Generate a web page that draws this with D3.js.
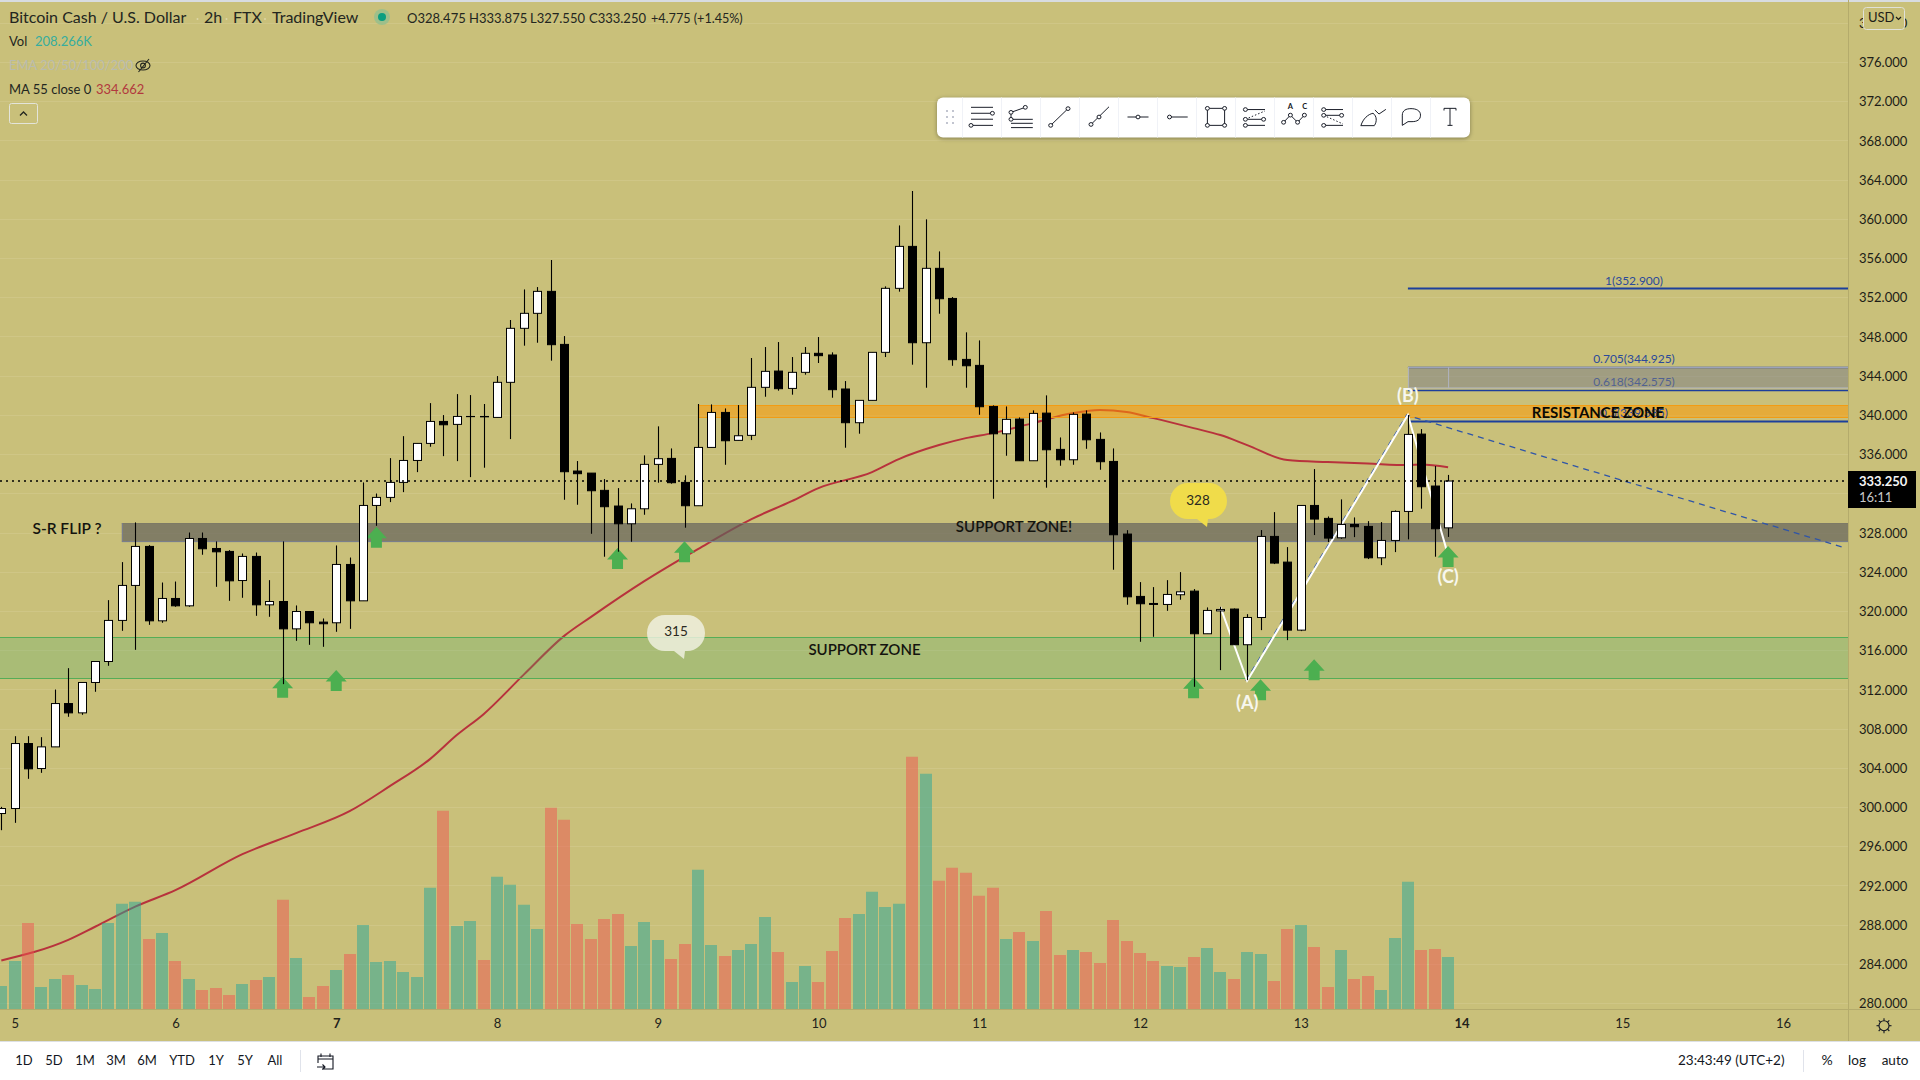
<!DOCTYPE html>
<html>
<head>
<meta charset="utf-8">
<title>BCHUSD</title>
<script src="https://cdn.jsdelivr.net/npm/d3@7"></script>
<style>
  html, body { margin: 0; padding: 0; background: #fff; }
  svg { display: block; }
  text { font-family: Lato, "Open Sans", sans-serif; }
</style>
</head>
<body>
<svg id="chart" width="1920" height="1080"></svg>
<script>
// one entry per 2h bar, first bar is the one before the 5th
const firstBar = -1
const opens = [299.33,299.84,306.47,303.92,306.13,310.55,309.6,312.7,314.84,319.03,322.6,326.58,318.99,321.27,320.52,327.39,326.37,326.07,323.1,325.56,320.62,320.96,318.17,319.94,318.86,318.79,324.74,321.03,330.76,331.58,333.11,335.35,337.09,339.33,339.03,339.82,339.84,339.74,343.32,348.83,350.36,352.6,347.19,334.27,334.06,332.3,330.7,328.89,330.42,334.95,335.56,333.11,330.73,336.68,340.25,337.4,337.91,342.81,344.47,342.7,344.34,346.28,346.11,342.64,339.2,341.48,346.38,352.91,357.19,347.36,354.95,351.88,345.66,345.05,340.86,338.07,339.57,335.32,340.18,336.48,335.42,340.08,337.5,335.25,327.84,321.48,320.76,320.66,321.65,322.02,317.67,320.0,320.19,316.55,319.33,327.6,324.98,318.04,330.76,329.44,327.46,328.82,328.62,325.42,327.19,330.15,338.04,332.74,328.475]
const highs = [300.01,307.22,307.22,307.12,311.98,314.16,312.7,314.84,321.1,324.98,329.03,326.71,322.9,323,328,328,327.09,326.2,325.86,325.96,323.14,327.09,320.56,319.94,319.23,326.68,325.45,333.11,331.98,335.59,337.83,337.09,341.2,339.98,342.12,342.02,341.11,343.96,349.68,352.8,353.04,355.8,348.04,335.29,334.06,333.45,332.53,330.97,335.87,338.83,336.58,333.83,341.11,341.07,340.66,341,345.8,346.92,347.43,345.9,346.92,347.94,346.38,343.45,341.48,346.38,353.11,359.33,362.84,359.95,356.68,352.02,348.42,347.6,340.97,340.86,339.74,340.46,341.99,337.7,340.25,340.46,338.21,336.58,328.24,322.94,322.43,323.14,323.96,322.23,320.36,320.42,320.25,319.67,328.25,330.08,326.51,330.76,334.47,329.64,331.38,329.54,329.16,329.06,330.25,339.98,338.55,334.78,333.875]
const lows = [297.63,298.38,302.87,303.48,306.13,309.2,309.4,311.75,314.4,317.97,316.03,318.58,318.79,320.42,320.42,325.73,322.46,321.03,321.34,319.5,319.4,312.53,316.95,316.54,316.34,317.87,318.17,321.03,328.68,331.1,332.12,334.16,336.75,335.79,335.28,333.65,334.61,339.74,337.53,347.06,347.36,345.53,331.34,330.83,327.87,325.53,326.04,327.06,329.81,333.08,332.98,328.49,330.73,336.68,334.91,337.4,337.43,341.85,342.47,342.06,344.1,345.29,341.75,336.65,338.08,341.48,345.9,352.57,345.12,342.77,350.32,345.01,342.77,340.01,331.44,335.83,335.32,335.32,332.57,334.81,334.91,336.54,334.4,324.2,320.63,316.85,317.36,320.01,321.14,312.26,317.67,313.96,316.55,312.94,318.04,324.78,317.02,317.94,327.74,327.02,327.36,327.53,325.29,324.67,326,327.3,330.43,325.53,327.55]
const closes = [299.84,306.47,303.89,306.13,310.55,309.6,312.7,314.84,319.03,322.6,326.58,318.99,321.27,320.52,327.39,326.34,326.03,323.07,325.56,320.62,320.96,318.17,319.94,318.79,318.69,324.74,321.03,330.76,331.58,333.11,335.35,337.09,339.33,338.99,339.84,339.84,339.8,343.32,348.83,350.36,352.6,347.16,334.2,334,332.26,330.63,328.89,330.42,334.95,335.53,333.08,330.73,336.68,340.25,337.36,337.87,342.81,344.44,342.67,344.34,346.28,346.04,342.57,339.2,341.48,346.38,352.91,357.19,347.36,354.95,351.85,345.63,345.01,340.83,338.07,339.54,335.32,340.15,336.44,335.42,340.05,337.46,335.22,327.77,321.44,320.73,320.66,321.68,321.95,317.67,320.05,320.15,316.55,319.33,327.6,324.88,318.04,330.76,329.37,327.43,328.82,328.59,325.42,327.19,330.15,338.01,332.67,328.38,333.25]
const volumes = [92,192,344,88,120,136,96,80,344,421,429,280,304,192,120,76,84,56,100,116,128,437,204,48,92,156,220,336,188,192,148,128,485,793,332,352,196,529,497,417,320,805,757,340,280,360,380,252,348,276,200,260,557,256,212,236,260,368,228,108,172,108,232,364,380,469,408,421,1009,941,513,565,545,453,485,280,308,272,392,216,236,228,184,356,272,224,192,172,168,208,244,148,120,228,220,112,320,336,248,88,236,120,132,76,284,509,236,240,208]

// MA 55, read at these bars
const maBars = [-1,4,6,9,12,17,21,25,28,31,33,35,38,41,43,47,51,55,58,60,64,66,69,71,73,76,79,81,83,85,88,90,92,95,98,101,104,105,107]
const maValues = [284.34,286.44,287.78,289.83,291.51,295.18,297.33,299.57,302.12,304.88,307.33,309.47,313.5,317.43,319.37,323.04,326.31,329.37,331.2,332.53,334.16,335.49,336.92,337.63,338.14,339.16,340.18,340.49,340.29,339.67,338.65,337.94,336.92,335.39,335.18,335.03,334.88,334.93,334.662]

const priceTicks = [280,284,288,292,296,300,304,308,312,316,320,324,328,332,336,340,344,348,352,356,360,364,368,372,376,380]
const dayBars = [0,12,24,36,48,60,72,84,96,108,120,132]
const dayLabels = ['5','6','7','8','9','10','11','12','13','14','15','16']
const boldDays = ['7','14']

const arrowBars = [20,24,27,45,50,88,93,97,107]
const arrowTips = [313.28,313.96,328.58,326.41,327.12,313.24,313.04,315.08,326.61]

const waveBars = [90,92,104,107]
const wavePrices = [320.42,312.87,339.98,325.69]
const fibBars = [92,104,136.6]
const fibPrices = [312.87,339.98,326.48]
const fibLevels = [1,0.705,0.618,0.5]
const fibValues = [352.9,344.925,342.575,339.385]

const lastPrice = 333.25
const rangeButtons = ['1D','5D','1M','3M','6M','YTD','1Y','5Y','All']
const rangeCenters = [24,54,85,116,147,182,216,245,275]

const bg = '#c9c07a'
const axisX = 1848
const axisY = 1009

const svg = d3.select('#chart')
const x = d3.scaleLinear().domain([0, 132]).range([14.7, 1783])
const y = d3.scaleLinear().domain([376, 280]).range([62, 1003])
const v = d3.scaleLinear().domain([0, 1000]).range([axisY, axisY - 250])

const bars = opens.map((o, i) => ({ i: i + firstBar, o, h: highs[i], l: lows[i], c: closes[i], vol: volumes[i] }))

svg.append('rect').attr('width', 1920).attr('height', 1042).attr('fill', bg)
svg.append('rect').attr('width', 1920).attr('height', 2).attr('fill', '#d8dce0')
svg.append('rect').attr('y', 1042).attr('width', 1920).attr('height', 38).attr('fill', '#fff')
svg.append('line').attr('x1', 0).attr('x2', 1920).attr('y1', 1041.5).attr('y2', 1041.5).attr('stroke', '#dde0e4')

const defs = svg.append('defs')
defs.append('clipPath').attr('id', 'pane').append('rect').attr('width', axisX).attr('height', axisY)
const pane = svg.append('g').attr('clip-path', 'url(#pane)')

// grid
pane.append('g').selectAll('line').data(priceTicks).join('line')
  .attr('x1', 0).attr('x2', axisX)
  .attr('y1', d => Math.round(y(d)) + 0.5).attr('y2', d => Math.round(y(d)) + 0.5)
  .attr('stroke', '#cfc686').attr('stroke-width', 1)

// MA
const maLine = d3.line().x(d => x(d[0])).y(d => y(d[1])).curve(d3.curveMonotoneX)
pane.append('path')
  .attr('d', maLine(maBars.map((b, i) => [b, maValues[i]])))
  .attr('fill', 'none').attr('stroke', '#b8323c').attr('stroke-width', 2)

// volume
pane.append('g').selectAll('rect').data(bars).join('rect')
  .attr('x', d => Math.round(x(d.i)) - 6)
  .attr('width', 12)
  .attr('y', d => v(d.vol))
  .attr('height', d => axisY - v(d.vol))
  .attr('fill', d => d.c >= d.o ? '#26a69a' : '#ef5350')
  .attr('fill-opacity', 0.5)

// zones
function zone (x0, top, bottom, fill, alpha, edge) {
  const g = pane.append('g')
  g.append('rect').attr('x', x0).attr('y', y(top)).attr('width', axisX - x0).attr('height', y(bottom) - y(top))
    .attr('fill', fill).attr('fill-opacity', alpha)
  g.selectAll('line').data([top, bottom]).join('line')
    .attr('x1', x0).attr('x2', axisX)
    .attr('y1', d => Math.round(y(d)) + 0.5).attr('y2', d => Math.round(y(d)) + 0.5)
    .attr('stroke', edge)
}
zone(0, 317.3, 313.11, '#4caf6a', 0.25, '#55ad57')
zone(x(51), 341, 339.8, '#ff9800', 0.52, '#f39c12')
zone(x(8), 328.96, 327.12, '#625f5c', 0.69, '#7d7a66')
pane.append('line').attr('x1', x(8)).attr('x2', axisX).attr('y1', y(327.12) + 0.5).attr('y2', y(327.12) + 0.5).attr('stroke', '#7a7f90')
pane.append('line').attr('x1', x(8) + 0.5).attr('x2', x(8) + 0.5).attr('y1', y(328.96)).attr('y2', y(327.12)).attr('stroke', '#7a7f90')

// fib levels
const fibX0 = x(104)
pane.append('g').selectAll('line').data(fibValues).join('line')
  .attr('x1', fibX0).attr('x2', axisX)
  .attr('y1', d => Math.round(y(d)) + 0.5).attr('y2', d => Math.round(y(d)) + 0.5)
  .attr('stroke', '#1c3f9c').attr('stroke-width', (d, i) => i === 0 || i === 3 ? 2 : 1.6)
pane.append('g').selectAll('text').data(fibValues).join('text')
  .attr('x', 1634).attr('y', d => y(d) - 6.5)
  .attr('text-anchor', 'middle').attr('dominant-baseline', 'middle')
  .attr('font-size', 12).attr('fill', '#2b4a9b')
  .text((d, i) => fibLevels[i] + '(' + d3.format('.3f')(d) + ')')
// grey box between 0.705 and 0.618
pane.append('rect').attr('x', fibX0 + 0.5).attr('y', y(344.85)).attr('width', axisX - fibX0).attr('height', y(342.75) - y(344.85))
  .attr('fill', '#787a88').attr('fill-opacity', 0.5).attr('stroke', '#b0b3c0')
pane.append('line').attr('x1', x(107) + 0.5).attr('x2', x(107) + 0.5).attr('y1', y(344.85)).attr('y2', y(342.75)).attr('stroke', '#b0b3c0')

// wave and fib trend
const pt = d3.line().x(d => x(d[0])).y(d => y(d[1]))
pane.append('path').attr('d', pt(fibBars.map((b, i) => [b, fibPrices[i]])))
  .attr('transform', 'translate(-1.2,0)')
  .attr('fill', 'none').attr('stroke', '#2f55a8').attr('stroke-width', 1.3).attr('stroke-dasharray', '6 5')
pane.append('path').attr('d', pt(waveBars.map((b, i) => [b, wavePrices[i]])))
  .attr('fill', 'none').attr('stroke', '#fff').attr('stroke-width', 2)

// arrows
pane.append('g').selectAll('path').data(arrowBars).join('path')
  .attr('transform', (d, i) => `translate(${x(d)},${y(arrowTips[i])})`)
  .attr('d', 'M0 0L10.5 11.5H5.5V21H-5.5V11.5H-10.5Z')
  .attr('fill', '#4caf50')

// candles
const candles = pane.append('g').selectAll('g').data(bars).join('g')
candles.append('line')
  .attr('x1', d => Math.round(x(d.i)) + 0.5).attr('x2', d => Math.round(x(d.i)) + 0.5)
  .attr('y1', d => y(d.h)).attr('y2', d => y(d.l))
  .attr('stroke', '#000').attr('stroke-width', 1.1)
candles.append('rect')
  .attr('x', d => Math.round(x(d.i)) - 3.5)
  .attr('width', 8)
  .attr('y', d => y(Math.max(d.o, d.c)))
  .attr('height', d => Math.abs(y(d.o) - y(d.c)))
  .attr('fill', d => d.c >= d.o ? '#fff' : '#000')
  .attr('stroke', '#000').attr('stroke-width', 1)

// last price
pane.append('line').attr('x1', 0).attr('x2', axisX).attr('y1', y(lastPrice)).attr('y2', y(lastPrice))
  .attr('stroke', '#000').attr('stroke-width', 1.6).attr('stroke-dasharray', '2 4')

// bubbles
function bubble (bx, by, w, h, tail, fill, alpha, label, tx, ty) {
  svg.append('path')
    .attr('d', `M${bx + h / 2} ${by}H${bx + w - h / 2}A${h / 2} ${h / 2} 0 0 1 ${bx + w - h / 2} ${by + h}H${tail[0] + 1}L${tail[0]} ${tail[1]}L${tail[0] - 10} ${by + h}H${bx + h / 2}A${h / 2} ${h / 2} 0 0 1 ${bx + h / 2} ${by}Z`)
    .attr('fill', fill).attr('fill-opacity', alpha)
  svg.append('text').attr('x', tx).attr('y', ty).attr('text-anchor', 'middle').attr('dominant-baseline', 'middle')
    .attr('font-size', 13.5).attr('fill', '#2a2a20').text(label)
}
bubble(647, 615, 58, 36, [684, 659], '#f3f2e6', 0.8, '315', 676, 633)
bubble(1170, 483, 57, 36, [1207, 527], '#f0dc4a', 1, '328', 1198, 501.5)

// labels on the chart
function note (txt, cx, cy, size, fill, weight) {
  svg.append('text').attr('x', cx).attr('y', cy).attr('text-anchor', 'middle').attr('dominant-baseline', 'middle')
    .attr('font-size', size).attr('fill', fill).attr('font-weight', weight).text(txt)
}
note('S-R FLIP ?', 67, 530, 15.5, '#14140f', 600)
note('SUPPORT ZONE!', 1014, 528.5, 15, '#14140f', 600)
note('SUPPORT ZONE', 864.5, 651.5, 15, '#14140f', 600)
note('RESISTANCE ZONE', 1598, 414, 15, '#0a0a05', 700)
note('(A)', x(92), 704, 18, '#f7f7ef', 700)
note('(B)', x(104), 397, 18, '#f7f7ef', 700)
note('(C)', x(107), 578, 18, '#f7f7ef', 700)

// axes
svg.append('line').attr('x1', axisX + 0.5).attr('x2', axisX + 0.5).attr('y1', 0).attr('y2', 1041).attr('stroke', '#b4ab6c')
svg.append('line').attr('x1', 0).attr('x2', 1920).attr('y1', axisY + 0.5).attr('y2', axisY + 0.5).attr('stroke', '#b4ab6c')

const priceAxis = svg.append('g').attr('transform', `translate(${axisX},0)`)
  .call(d3.axisRight(y).tickValues(priceTicks).tickFormat(d3.format('.3f')).tickSize(0).tickPadding(11))
priceAxis.select('.domain').remove()
priceAxis.selectAll('text').attr('font-size', 13).attr('fill', '#1d1d17').attr('dy', '0.36em').style('font-family', 'Lato')

const timeAxis = svg.append('g').attr('transform', `translate(0,${axisY})`)
  .call(d3.axisBottom(x).tickValues(dayBars).tickFormat((d, i) => dayLabels[i]).tickSize(0).tickPadding(10))
timeAxis.select('.domain').remove()
timeAxis.selectAll('text').attr('font-size', 13).attr('fill', '#22221a').style('font-family', 'Lato')
  .attr('font-weight', (d, i) => boldDays.includes(dayLabels[i]) ? 700 : 400)

// price tag
svg.append('rect').attr('x', axisX).attr('y', 471).attr('width', 68).attr('height', 37).attr('fill', '#000')
svg.append('text').attr('x', 1859).attr('y', 483).attr('dominant-baseline', 'middle').attr('font-size', 13).attr('font-weight', 700).attr('fill', '#f4f4f4').text(d3.format('.3f')(lastPrice))
svg.append('text').attr('x', 1859).attr('y', 499).attr('dominant-baseline', 'middle').attr('font-size', 13).attr('fill', '#c8c8c8').text('16:11')

// USD button
svg.append('rect').attr('x', 1863.5).attr('y', 7.5).attr('width', 41).attr('height', 22).attr('rx', 3).attr('fill', bg).attr('stroke', '#e0e1d8')
svg.append('text').attr('x', 1868).attr('y', 18.5).attr('dominant-baseline', 'middle').attr('font-size', 13).attr('fill', '#1d1d17').text('USD')
svg.append('path').attr('d', 'M1896 17l2.5 2.5l2.5-2.5').attr('fill', 'none').attr('stroke', '#1d1d17').attr('stroke-width', 1.2)

// legend
function legend (txt, lx, ly, size, fill) {
  svg.append('text').attr('x', lx).attr('y', ly).attr('dominant-baseline', 'middle').attr('font-size', size).attr('fill', fill).text(txt)
}
legend('Bitcoin Cash / U.S. Dollar', 9, 19, 16, '#23261f')
legend('2h', 204, 19, 16, '#23261f')
legend('FTX', 233, 19, 16, '#23261f')
legend('TradingView', 272, 19, 16, '#23261f')
;[197.5, 226.5, 265].forEach(mx => svg.append('circle').attr('cx', mx).attr('cy', 19).attr('r', 1).attr('fill', '#dcd6a6'))
svg.append('circle').attr('cx', 382).attr('cy', 17).attr('r', 8).attr('fill', '#9ebf8a')
svg.append('circle').attr('cx', 382).attr('cy', 17).attr('r', 4).attr('fill', '#0b9e80')
legend('O328.475', 407, 20, 13, '#23261f')
legend('H333.875', 469, 20, 13, '#23261f')
legend('L327.550', 530, 20, 13, '#23261f')
legend('C333.250', 589, 20, 13, '#23261f')
legend('+4.775 (+1.45%)', 651, 20, 12.6, '#23261f')
legend('Vol', 9, 43, 13, '#23261f')
legend('208.266K', 35, 43, 13, '#36ad9e')
legend('EMA 20/50/100/200', 9, 67, 13, '#b9bcae')
legend('MA 55 close 0', 9, 91, 13, '#23261f')
legend('334.662', 96, 91, 13, '#b2393e')
const eye = svg.append('g').attr('transform', 'translate(143,65.5)').attr('fill', 'none').attr('stroke', '#23261f').attr('stroke-width', 1.1)
eye.append('ellipse').attr('rx', 7).attr('ry', 4.5)
eye.append('circle').attr('r', 2.4)
eye.append('line').attr('x1', -4.5).attr('y1', 6.5).attr('x2', 6).attr('y2', -6.5)
svg.append('rect').attr('x', 9.5).attr('y', 103.5).attr('width', 28).attr('height', 20).attr('rx', 2).attr('fill', 'none').attr('stroke', '#e3e4da')
svg.append('path').attr('d', 'M20 115.5l3.5-3.5l3.5 3.5').attr('fill', 'none').attr('stroke', '#23261f').attr('stroke-width', 1.3)

// drawing toolbar
const tb = svg.append('g')
tb.append('rect').attr('x', 937).attr('y', 97.5).attr('width', 533).attr('height', 40).attr('rx', 6).attr('fill', '#fff')
  .style('filter', 'drop-shadow(0 1px 2px rgba(0,0,0,.35))')
d3.range(13).forEach(k => {
  tb.append('line').attr('x1', 962.5 + 39 * k).attr('x2', 962.5 + 39 * k).attr('y1', 97.5).attr('y2', 137.5).attr('stroke', '#f0f2f7')
})
;[947, 953].forEach(gx => [111, 117, 123].forEach(gy => {
  tb.append('rect').attr('x', gx - 1).attr('y', gy - 1).attr('width', 2).attr('height', 2).attr('fill', '#c2c5d0')
}))
const icons = [
  { l: [[-11, -10.4, 11, -10.4], [-11, -4, 10.4, -4], [-11, 2.4, 11, 2.4], [-11, 9, 11, 9]], c: [[10.4, -4], [-11, 9]] },
  { l: [[-10, -5, 4.3, -10.4], [-10, -5, -10, 2.5], [-10, 2.5, 11.8, 2.5], [-10, 6.8, 11.8, 6.8], [-10, 11.4, 11.8, 11.4]], c: [[-10, -5], [4.3, -10.4], [-10, 2.5]] },
  { l: [[-9.3, 9, 8, -9]], c: [[-9.3, 9], [8, -9]] },
  { l: [[-8, 8, 10, -11]], c: [[-8, 8], [0, 0]] },
  { l: [[-10.5, 0, 10.5, 0]], c: [[0, 0]] },
  { l: [[-7.5, 0, 10.7, 0]], c: [[-7.5, 0]] },
  { l: [[-8.6, -9.3, 8.6, -9.3], [8.6, -9.3, 8.6, 9], [8.6, 9, -8.6, 9], [-8.6, 9, -8.6, -9.3]], c: [[-8.6, -9.3], [8.6, -9.3], [-8.6, 9], [8.6, 9]] },
  { l: [[-9.6, -8, 10, -8], [-9.6, 2.5, 10, 2.5], [-9.6, 9, 10, 9]], d: [[-9.6, 2.5, 10, -6.5]], c: [[-9.6, -8], [-9.6, 2.5], [8.6, 2.5], [-9.6, 9]] },
  { l: [[-10.4, 5.7, -3.6, -2], [-3.6, -2, 3.6, 5.7], [3.6, 5.7, 10.4, -2]], c: [[-10.4, 5.7], [-3.6, -2], [3.6, 5.7], [10.4, -2]], t: [['A', -3.6, -10], ['C', 10.7, -10]] },
  { l: [[-9.3, -8, 10, -8], [-9.3, -1.8, 10, -1.8], [-9.3, 9, 10, 9]], d: [[-9.3, -1.8, 10, 7.5]], c: [[-9.3, -8], [-9.3, -1.8], [8.6, -1.8], [-9.3, 9]] },
  { p: 'M-11.4 9.3H2.5M-11 9C-9 2 -4 -3 1 -4C5 -1 5 5 2.5 9M2.9 -7.5L7 -3.2L13.9 -8.2' },
  { p: 'M-8.7 9V-2C-8.7 -7 -5 -9 0 -9C5 -9 9.5 -7 9.5 -2C9.5 3 6 5 1 5H-3Z' },
  { p: 'M-6 -7V-9.3H6V-7M0 -9.3V9M-2.5 9H2.5' }
]
icons.forEach((ic, k) => {
  const g = tb.append('g').attr('transform', `translate(${982 + 39 * k},117) scale(1,0.93)`)
    .attr('fill', 'none').attr('stroke', '#131722').attr('stroke-width', 1)
  ;(ic.l || []).forEach(s => g.append('line').attr('x1', s[0]).attr('y1', s[1]).attr('x2', s[2]).attr('y2', s[3]))
  ;(ic.d || []).forEach(s => g.append('line').attr('x1', s[0]).attr('y1', s[1]).attr('x2', s[2]).attr('y2', s[3]).attr('stroke-dasharray', '1.5 2'))
  ;(ic.c || []).forEach(s => g.append('circle').attr('cx', s[0]).attr('cy', s[1]).attr('r', 2).attr('fill', '#fff'))
  ;(ic.t || []).forEach(s => g.append('text').attr('x', s[1]).attr('y', s[2]).attr('text-anchor', 'middle').attr('dominant-baseline', 'middle').attr('stroke', 'none').attr('fill', '#131722').attr('font-size', 7.5).attr('font-weight', 700).text(s[0]))
  if (ic.p) g.append('path').attr('d', ic.p)
})

// bottom bar
svg.append('g').selectAll('text').data(rangeButtons).join('text')
  .attr('x', (d, i) => rangeCenters[i]).attr('y', 1061.5)
  .attr('text-anchor', 'middle').attr('dominant-baseline', 'middle')
  .attr('font-size', 13).attr('fill', '#131722').text(d => d)
svg.append('line').attr('x1', 300.5).attr('x2', 300.5).attr('y1', 1050).attr('y2', 1072).attr('stroke', '#e0e3eb')
svg.append('path').attr('d', 'M318 1063V1056H333V1069H322M318 1059H333M321 1053.5V1057M330 1053.5V1057M317 1067H325M322.5 1064.5L325 1067L322.5 1069.5')
  .attr('fill', 'none').attr('stroke', '#131722').attr('stroke-width', 1.1)
svg.append('text').attr('x', 1678).attr('y', 1061.5).attr('dominant-baseline', 'middle').attr('font-size', 13.5).attr('fill', '#131722').text('23:43:49 (UTC+2)')
svg.append('line').attr('x1', 1803.5).attr('x2', 1803.5).attr('y1', 1050).attr('y2', 1072).attr('stroke', '#e0e3eb')
note('%', 1827, 1061.5, 14, '#131722', 400)
note('log', 1857, 1061.5, 13.5, '#131722', 400)
note('auto', 1895, 1061.5, 13.5, '#131722', 400)

// settings gear
const gear = svg.append('g').attr('transform', 'translate(1884,1025.7)').attr('fill', 'none').attr('stroke', '#131722').attr('stroke-width', 1.1)
gear.append('circle').attr('r', 5)
d3.range(8).forEach(k => {
  const a = k * Math.PI / 4
  gear.append('line').attr('x1', 5 * Math.cos(a)).attr('y1', 5 * Math.sin(a)).attr('x2', 7.5 * Math.cos(a)).attr('y2', 7.5 * Math.sin(a))
})
</script>
</body>
</html>
